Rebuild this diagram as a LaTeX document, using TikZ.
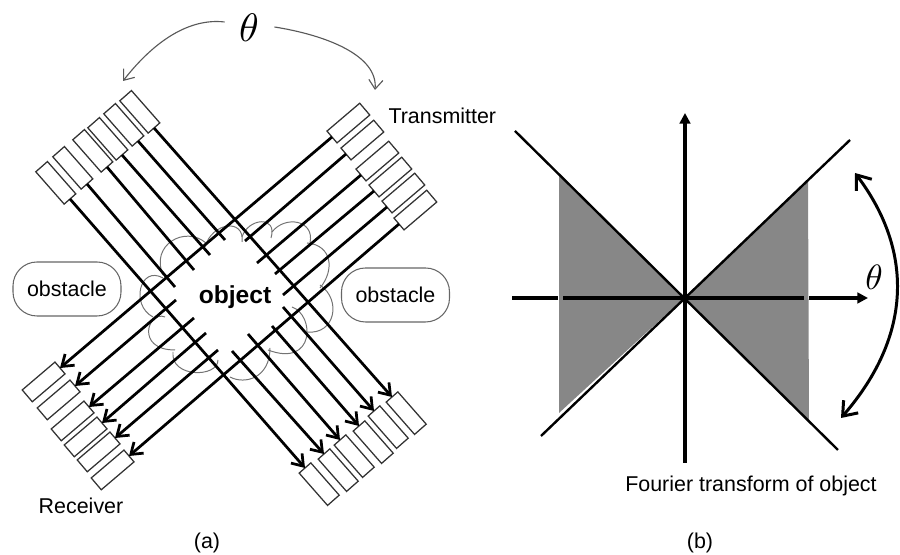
\documentclass[tikz,border=0pt]{standalone}
\usepackage{fontspec}
\setmainfont{Liberation Sans}
\usetikzlibrary{arrows.meta}
\tikzset{
  label text/.style={font=\fontsize{6.1}{7}\selectfont, inner sep=0pt},
  beam box/.style={draw=black!80, line width=0.36pt, rectangle, minimum width=0.43cm, minimum height=0.155cm, inner sep=0pt, outer sep=0pt},
  down box/.style={beam box, rotate=-48.7},
  up box/.style={beam box, rotate=40.4},
  beam/.style={line width=0.78pt},
  beam arrow/.style={beam, -{Straight Barb[length=3pt, width=4.2pt, line width=0.78pt]}},
  cloud line/.style={draw=black!55, line width=0.28pt},
  obstacle box/.style={draw=black!60, line width=0.3pt, rounded corners=0.24cm, minimum width=1.08cm, minimum height=0.54cm, label text},
  angle mark/.style={draw=black!65, line width=0.32pt, -{Straight Barb[length=2.6pt, width=4pt, line width=0.32pt]}},
  axis line/.style={line width=0.92pt},
  axis arrow/.style={axis line, -{Triangle[length=3pt, width=3pt]}},
  slope line/.style={line width=0.68pt}
}
\begin{document}
\begin{tikzpicture}[line width=0.3pt]
  \useasboundingbox (0,0) rectangle (9,5.55);
  % cloud
  \draw[cloud line] (1.63,2.80) .. controls (1.50,3.10) and (1.85,3.30) .. (2.06,3.12);
  \draw[cloud line] (2.05,3.08) .. controls (2.12,3.33) and (2.45,3.37) .. (2.42,3.13);
  \draw[cloud line] (2.42,3.18) .. controls (2.48,3.37) and (2.78,3.40) .. (2.71,3.17);
  \draw[cloud line] (2.72,3.23) .. controls (2.85,3.40) and (3.15,3.35) .. (3.10,3.12);
  \draw[cloud line] (3.07,3.12) .. controls (3.32,3.10) and (3.35,2.85) .. (3.20,2.67);
  \draw[cloud line] (3.20,2.70) .. controls (3.42,2.55) and (3.35,2.20) .. (3.07,2.23);
  \draw[cloud line] (2.92,2.48) .. controls (3.15,2.40) and (3.15,1.87) .. (2.68,2.05);
  \draw[cloud line] (2.70,2.07) .. controls (2.70,1.77) and (2.45,1.70) .. (2.30,1.78);
  \draw[cloud line] (2.18,1.95) .. controls (2.18,1.77) and (1.70,1.77) .. (1.73,2.03);
  \draw[cloud line] (1.65,2.38) .. controls (1.48,2.45) and (1.35,2.05) .. (1.75,2.05);
  \draw[cloud line] (1.63,2.77) .. controls (1.40,2.90) and (1.30,2.50) .. (1.53,2.38);
  % transmitters, upper left
  \node[down box, anchor=east] (txa1) at (1.54,4.27) {};
  \node[down box, anchor=east] (txa2) at (1.38,4.14) {};
  \node[down box, anchor=east] (txa3) at (1.22,4.00) {};
  \node[down box, anchor=east] (txa4) at (1.07,3.88) {};
  \node[down box, anchor=east] (txa5) at (0.87,3.71) {};
  \node[down box, anchor=east] (txa6) at (0.70,3.56) {};
  % receivers, lower right
  \node[down box, anchor=west] (rxa1) at (3.92,1.58) {};
  \node[down box, anchor=west] (rxa2) at (3.74,1.44) {};
  \node[down box, anchor=west] (rxa3) at (3.59,1.29) {};
  \node[down box, anchor=west] (rxa4) at (3.40,1.15) {};
  \node[down box, anchor=west] (rxa5) at (3.24,1.01) {};
  \node[down box, anchor=west] (rxa6) at (3.05,0.87) {};
  % transmitters, upper right
  \node[up box, anchor=west] (txb1) at (3.32,4.18) {};
  \node[up box, anchor=west] (txb2) at (3.46,4.01) {};
  \node[up box, anchor=west] (txb3) at (3.61,3.80) {};
  \node[up box, anchor=west] (txb4) at (3.74,3.64) {};
  \node[up box, anchor=west] (txb5) at (3.87,3.48) {};
  \node[up box, anchor=west] (txb6) at (3.99,3.31) {};
  % receivers, lower left
  \node[up box, anchor=east] (rxb1) at (0.60,1.87) {};
  \node[up box, anchor=east] (rxb2) at (0.75,1.69) {};
  \node[up box, anchor=east] (rxb3) at (0.89,1.48) {};
  \node[up box, anchor=east] (rxb4) at (1.02,1.32) {};
  \node[up box, anchor=east] (rxb5) at (1.15,1.17) {};
  \node[up box, anchor=east] (rxb6) at (1.29,0.99) {};
  % ends of the beams at the object
  \coordinate (ina2) at (2.25,3.15);
  \coordinate (ina3) at (2.10,3.00);
  \coordinate (ina4) at (1.94,2.85);
  \coordinate (ina5) at (1.75,2.68);
  \coordinate (outa2) at (2.83,2.48);
  \coordinate (outa3) at (2.72,2.29);
  \coordinate (outa4) at (2.48,2.21);
  \coordinate (outa5) at (2.32,2.04);
  \coordinate (inb2) at (2.45,3.14);
  \coordinate (inb3) at (2.57,2.92);
  \coordinate (inb4) at (2.75,2.81);
  \coordinate (inb5) at (2.83,2.60);
  \coordinate (outb2) at (1.76,2.55);
  \coordinate (outb3) at (1.94,2.37);
  \coordinate (outb4) at (2.06,2.22);
  \coordinate (outb5) at (2.18,2.05);
  % beams
  \draw[beam arrow] (txa1.east) -- (rxa1.west);
  \draw[beam] (txa2.east) -- (ina2);
  \draw[beam arrow] (outa2) -- (rxa2.west);
  \draw[beam] (txa3.east) -- (ina3);
  \draw[beam arrow] (outa3) -- (rxa3.west);
  \draw[beam] (txa4.east) -- (ina4);
  \draw[beam arrow] (outa4) -- (rxa4.west);
  \draw[beam] (txa5.east) -- (ina5);
  \draw[beam arrow] (outa5) -- (rxa5.west);
  \draw[beam arrow] (txa6.east) -- (rxa6.west);
  \draw[beam arrow] (txb1.west) -- (rxb1.east);
  \draw[beam] (txb2.west) -- (inb2);
  \draw[beam arrow] (outb2) -- (rxb2.east);
  \draw[beam] (txb3.west) -- (inb3);
  \draw[beam arrow] (outb3) -- (rxb3.east);
  \draw[beam] (txb4.west) -- (inb4);
  \draw[beam arrow] (outb4) -- (rxb4.east);
  \draw[beam] (txb5.west) -- (inb5);
  \draw[beam arrow] (outb5) -- (rxb5.east);
  \draw[beam arrow] (txb6.west) -- (rxb6.east);
  % labels of part (a)
  \node[font=\fontsize{7}{8}\selectfont\bfseries, inner sep=0pt] (objectlabel) at (2.35,2.58) {object};
  \node[obstacle box] (obstaclea) at (0.67,2.66) {obstacle};
  \node[obstacle box] (obstacleb) at (3.955,2.60) {obstacle};
  \node[label text, anchor=west] (txlabel) at (3.88,4.39) {Transmitter};
  \node[label text] (rxlabel) at (0.81,0.49) {Receiver};
  \node[label text] (parta) at (2.07,0.12) {(a)};
  \node[inner sep=0pt, scale=1.13] (thetaa) at (2.49,5.27) {$\theta$};
  \coordinate (aimleft) at (1.23,4.74);
  \coordinate (aimright) at (3.75,4.65);
  \draw[angle mark] (thetaa.west) ++(-0.14,0.06) .. controls (1.90,5.37) and (1.55,5.15) .. (aimleft);
  \draw[angle mark] (thetaa.east) ++(0.15,0.01) .. controls (3.25,5.20) and (3.78,5.00) .. (aimright);
  % part (b)
  \coordinate (origin) at (6.84,2.57);
  \fill[black!47] (origin) -- (5.59,3.79) -- (5.59,1.42) -- cycle;
  \fill[black!47] (origin) -- (8.08,3.75) -- (8.09,1.35) -- cycle;
  \draw[slope line] (5.15,4.24) -- (8.38,1.05);
  \draw[slope line] (5.41,1.19) -- (8.50,4.15);
  \draw[axis arrow] (6.85,0.92) -- (6.85,4.42);
  \draw[axis line] (5.12,2.57) -- (5.58,2.57);
  \draw[axis line] (5.63,2.57) -- (8.04,2.57);
  \draw[axis arrow] (8.09,2.57) -- (8.68,2.57);
  \fill (origin) circle (0.035);
  \draw[line width=0.85pt, {Straight Barb[length=3.6pt, width=5.5pt, line width=0.85pt]}-{Straight Barb[length=3.6pt, width=5.5pt, line width=0.85pt]}] (8.55,3.82) .. controls (9.13,3.05) and (9.13,2.20) .. (8.41,1.37);
  \node[inner sep=0pt] (thetab) at (8.74,2.78) {$\theta$};
  \node[label text] (fourierlabel) at (7.51,0.69) {Fourier transform of object};
  \node[label text] (partb) at (7.00,0.12) {(b)};
\end{tikzpicture}
\end{document}
